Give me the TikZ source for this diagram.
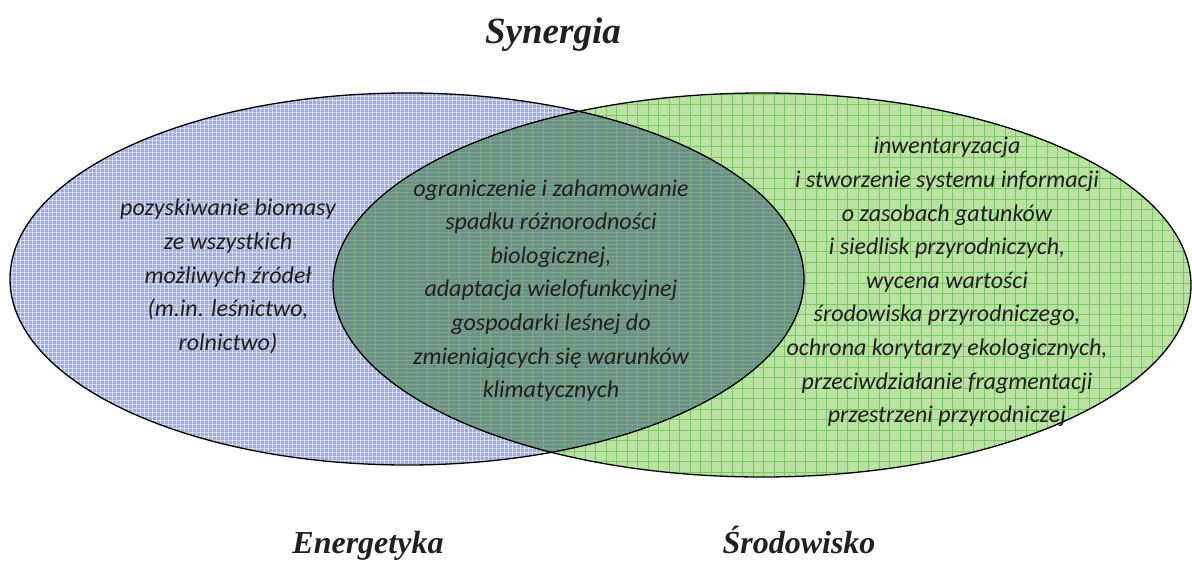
\documentclass[tikz,border=0pt]{standalone}
\usepackage{fontspec}
\setmainfont{Liberation Serif}
\newfontfamily\calib{Carlito}
\definecolor{bluebase}{RGB}{160,174,222}
\definecolor{greenbase}{RGB}{186,226,162}
\definecolor{greengrid}{RGB}{122,200,102}
\definecolor{overbase}{RGB}{108,145,138}
\definecolor{overgrid}{RGB}{140,188,126}
\definecolor{txt}{RGB}{35,31,32}
\tikzset{
  body/.style={font=\calib\itshape\fontsize{24}{33.6}\selectfont, text=txt, align=center, inner sep=0pt},
  headline/.style={font=\bfseries\itshape\fontsize{37}{40}\selectfont, text=txt, inner sep=0pt, anchor=base},
  setlabel/.style={font=\bfseries\itshape\fontsize{32}{36}\selectfont, text=txt, inner sep=0pt, anchor=base},
  outline/.style={draw=black, line width=1.3pt}
}
\begin{document}
\begin{tikzpicture}[x=1pt,y=-1pt]
\useasboundingbox (0,0) rectangle (1192,562);
% left set (Energetyka)
\fill[bluebase] (407,279) ellipse [x radius=397pt, y radius=186pt];
\begin{scope}
  \clip (407,279) ellipse [x radius=397pt, y radius=186pt];
  \foreach \i in {0,...,200} {\draw[white, opacity=0.5, line width=0.8pt] (8+4*\i,90) -- (8+4*\i,470);}
  \foreach \j in {0,...,95} {\draw[white, opacity=0.5, line width=0.8pt] (8,92+4*\j) -- (806,92+4*\j);}
\end{scope}
% right set (Srodowisko)
\fill[greenbase] (762,285) ellipse [x radius=429pt, y radius=192pt];
\begin{scope}
  \clip (762,285) ellipse [x radius=429pt, y radius=192pt];
  \foreach \i in {0,...,83} {\draw[greengrid, line width=0.9pt] (333+10.5*\i,90) -- (333+10.5*\i,480);}
  \foreach \j in {0,...,37} {\draw[greengrid, line width=0.9pt] (330,94+10.5*\j) -- (1192,94+10.5*\j);}
\end{scope}
% overlap
\begin{scope}
  \clip (407,279) ellipse [x radius=397pt, y radius=186pt];
  \fill[overbase] (762,285) ellipse [x radius=429pt, y radius=192pt];
  \clip (762,285) ellipse [x radius=429pt, y radius=192pt];
  \foreach \j in {0,...,95} {\draw[overgrid, opacity=0.55, line width=0.8pt] (330,92+4*\j) -- (806,92+4*\j);}
  \foreach \i in {0,...,45} {\draw[overgrid, opacity=0.5, line width=0.7pt] (333+10.5*\i,90) -- (333+10.5*\i,480);}
\end{scope}
% outlines
\draw[outline] (407,279) ellipse [x radius=397pt, y radius=186pt];
\draw[outline] (762,285) ellipse [x radius=429pt, y radius=192pt];
% texts
\node[headline] (title) at (553,43) {Synergia};
\node[setlabel] (energ) at (368,553) {Energetyka};
\node[setlabel] (srod) at (799,553) {Środowisko};
\node[body] (lefttext) at (228,276.5) {pozyskiwanie biomasy\\ze wszystkich\\możliwych źródeł\\(m.in. leśnictwo,\\rolnictwo)};
\node[body] (midtext) at (551,290.5) {ograniczenie i zahamowanie\\spadku różnorodności\\biologicznej,\\adaptacja wielofunkcyjnej\\gospodarki leśnej do\\zmieniających się warunków\\klimatycznych};
\node[body] (righttext) at (947,282) {inwentaryzacja\\i stworzenie systemu informacji\\o zasobach gatunków\\i siedlisk przyrodniczych,\\wycena wartości\\środowiska przyrodniczego,\\ochrona korytarzy ekologicznych,\\przeciwdziałanie fragmentacji\\przestrzeni przyrodniczej};
\end{tikzpicture}
\end{document}
